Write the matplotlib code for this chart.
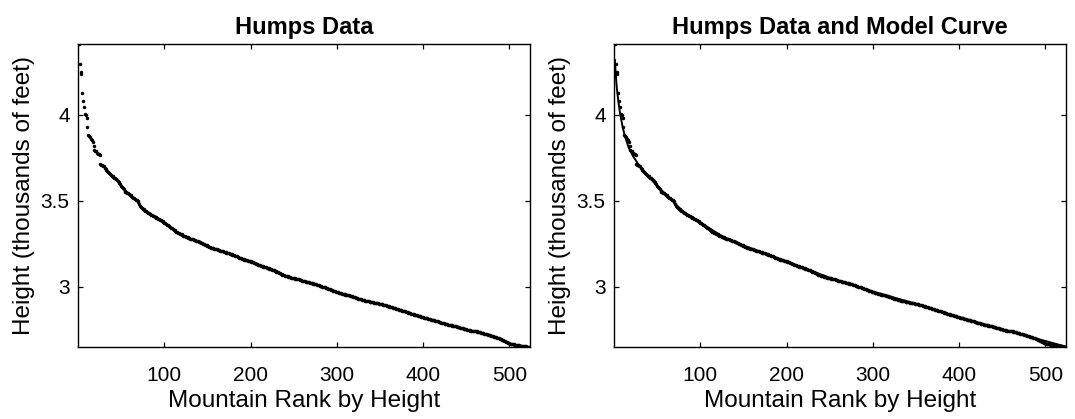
import numpy as np
import matplotlib
matplotlib.use("Agg")
import matplotlib.pyplot as plt

# Heights (feet) of mountains, ordered by rank
heights_ft = [
    4411, 4295, 4252, 4236, 4127, 4084, 4049, 4006, 4002, 3983,
    3927, 3881, 3878, 3871, 3862, 3852, 3843, 3822, 3796, 3789,
    3789, 3776, 3773, 3773, 3766, 3714, 3707, 3707, 3704, 3704,
    3694, 3687, 3681, 3674, 3668, 3661, 3655,
    3650, 3645, 3642, 3638, 3633, 3630, 3625, 3621, 3616, 3612,
    3605, 3596, 3589, 3580, 3573, 3566, 3559, 3553,
    3550, 3547, 3543, 3540, 3536, 3531, 3527, 3524, 3519, 3514,
    3510, 3506, 3503, 3499, 3494, 3481, 3470, 3462,
    3457, 3454, 3450, 3446, 3443, 3440, 3436, 3432,
    3429, 3425, 3422, 3420, 3417, 3414, 3411, 3408, 3405, 3401,
    3398, 3395, 3392, 3389, 3386, 3383, 3380, 3377, 3373,
    3369, 3366, 3362, 3358, 3355, 3351, 3348, 3344, 3340,
    3336, 3332, 3328, 3324, 3320, 3317, 3314, 3311,
    3309, 3306, 3304, 3301, 3298, 3296, 3293, 3291, 3289, 3287, 3284, 3281,
    3280, 3278, 3277, 3275, 3273, 3272, 3270, 3268, 3266, 3264, 3262, 3260,
    3258, 3255, 3253, 3250, 3248, 3245, 3243, 3240, 3238, 3235, 3233, 3230,
    3228, 3227, 3225, 3224, 3222, 3220, 3219, 3217, 3215, 3214, 3212, 3210,
    3209, 3207, 3206, 3204, 3202, 3201, 3199, 3197, 3196, 3194, 3192, 3190,
    3188, 3186, 3184, 3182, 3180, 3178, 3176, 3174, 3172, 3170, 3168, 3165,
    3163, 3161, 3160, 3158, 3157, 3155, 3154, 3152, 3151, 3149, 3148, 3146,
    3144, 3141, 3139, 3137, 3135, 3133, 3131, 3129, 3127, 3125, 3123, 3120,
    3119, 3117, 3116, 3114, 3112, 3111, 3109, 3107, 3106, 3104, 3102, 3100,
    3098, 3096, 3093, 3091, 3088, 3085, 3083, 3080, 3078, 3075, 3073, 3070,
    3068, 3066, 3065, 3063, 3061, 3060, 3058, 3057, 3055, 3053, 3052, 3050,
    3049, 3048, 3046, 3045, 3044, 3043, 3042, 3040, 3039, 3037, 3035,
    3034, 3033, 3031, 3030, 3029, 3027, 3026, 3025, 3024, 3022, 3021, 3020,
    3018, 3016, 3015, 3013, 3011, 3010, 3008, 3006, 3005, 3003, 3001, 3000,
    2998, 2996, 2994, 2992, 2990, 2988, 2986, 2984, 2982, 2980, 2979, 2977,
    2975, 2973, 2971, 2970, 2968, 2966, 2965, 2963, 2962, 2960, 2959, 2957,
    2956, 2954, 2953, 2951, 2950, 2949, 2947, 2946, 2944, 2943, 2941, 2940,
    2938, 2936, 2935, 2933, 2931, 2930, 2928, 2926, 2925, 2923, 2921, 2920,
    2919, 2918, 2917, 2915, 2914, 2913, 2912, 2911, 2910, 2909, 2908, 2907,
    2906, 2905, 2904, 2903, 2901, 2900, 2899, 2898, 2897, 2896, 2894, 2893,
    2891, 2889, 2888, 2886, 2884, 2883, 2881, 2880, 2878, 2877, 2875, 2874,
    2872, 2870, 2869, 2867, 2865, 2864, 2862, 2860, 2859, 2857, 2856, 2854,
    2852, 2851, 2849, 2847, 2846, 2844, 2843, 2841, 2839, 2838, 2836, 2835,
    2833, 2832, 2830, 2828, 2827, 2825, 2824, 2822, 2820, 2819, 2817, 2816,
    2815, 2813, 2812, 2811, 2809, 2808, 2807, 2805, 2804, 2803, 2801, 2800,
    2798, 2796, 2795, 2793, 2791, 2790, 2788, 2786, 2785, 2783, 2781, 2780,
    2779, 2778, 2777, 2776, 2775, 2774, 2773, 2772, 2771, 2770, 2768, 2767,
    2765, 2763, 2761, 2760, 2758, 2757, 2755, 2754, 2752, 2751, 2750, 2748,
    2747, 2746, 2745, 2745, 2744, 2743, 2742, 2741, 2740, 2740, 2739, 2738,
    2736, 2735, 2733, 2732, 2730, 2729, 2727, 2726, 2724, 2723, 2721, 2720,
    2718, 2716, 2715, 2713, 2711, 2710, 2708, 2706, 2705, 2703, 2701, 2700,
    2697, 2695, 2692, 2690, 2687, 2685, 2682, 2680, 2677, 2675, 2672, 2670,
    2669, 2668, 2667, 2665, 2664, 2663, 2662, 2661, 2660, 2659, 2658, 2656,
    2656, 2655, 2655, 2654, 2653, 2653, 2652, 2651, 2651, 2650, 2650, 2649,
]

# Model curve, read at selected ranks (thousands of feet)
model_rank = [1, 2, 3, 5, 7, 10, 13, 17, 22, 30, 38, 50, 57, 65, 72, 80, 90,
              100, 125, 150, 200, 250, 300, 350, 400, 450, 500, 524]
model_height = [4.32, 4.24, 4.17, 4.08, 4.01, 3.93, 3.87, 3.81, 3.76, 3.70,
                3.652, 3.588, 3.552, 3.515, 3.478, 3.438, 3.405, 3.374, 3.295,
                3.24, 3.147, 3.052, 2.972, 2.90, 2.823, 2.752, 2.684, 2.651]

titles = ["Humps Data", "Humps Data and Model Curve"]
x_ticks = [100, 200, 300, 400, 500]
y_ticks = [3, 3.5, 4]
y_tick_labels = ["3", "3.5", "4"]

heights = np.array(heights_ft) / 1000.0
ranks = np.arange(1, len(heights) + 1)

plt.rcParams['font.family'] = ['Liberation Sans', 'DejaVu Sans']

W, H = 1075, 419
fig = plt.figure(figsize=(W / 100, H / 100), dpi=100)

axes_px = [(78, 44, 452, 303), (614, 44, 452, 303)]
for i, (l, t, w, h) in enumerate(axes_px):
    ax = fig.add_axes([l / W, 1 - (t + h) / H, w / W, h / H])
    ax.plot(ranks, heights, linestyle='none', marker='.', markersize=5,
            color='black', markeredgewidth=0)
    if i == 1:
        ax.plot(model_rank, model_height, color='black', linewidth=1.4)
    ax.set_xlim(0, 524)
    ax.set_ylim(2.649, 4.413)
    ax.set_xticks(x_ticks)
    ax.set_yticks(y_ticks)
    ax.set_yticklabels(y_tick_labels)
    ax.tick_params(direction='in', length=3.6, width=0.9, top=True, right=True,
                   labelsize=15)
    ax.tick_params(axis='x', pad=14)
    ax.tick_params(axis='y', pad=6)
    for s in ax.spines.values():
        s.set_linewidth(1.0)
    ax.set_title(titles[i], fontsize=17, fontweight='bold', pad=7)
    ax.set_xlabel("Mountain Rank by Height", fontsize=17.5, labelpad=3)
    ax.set_ylabel("Height (thousands of feet)", fontsize=17.5, labelpad=4)

fig.savefig("out.png", dpi=100)
